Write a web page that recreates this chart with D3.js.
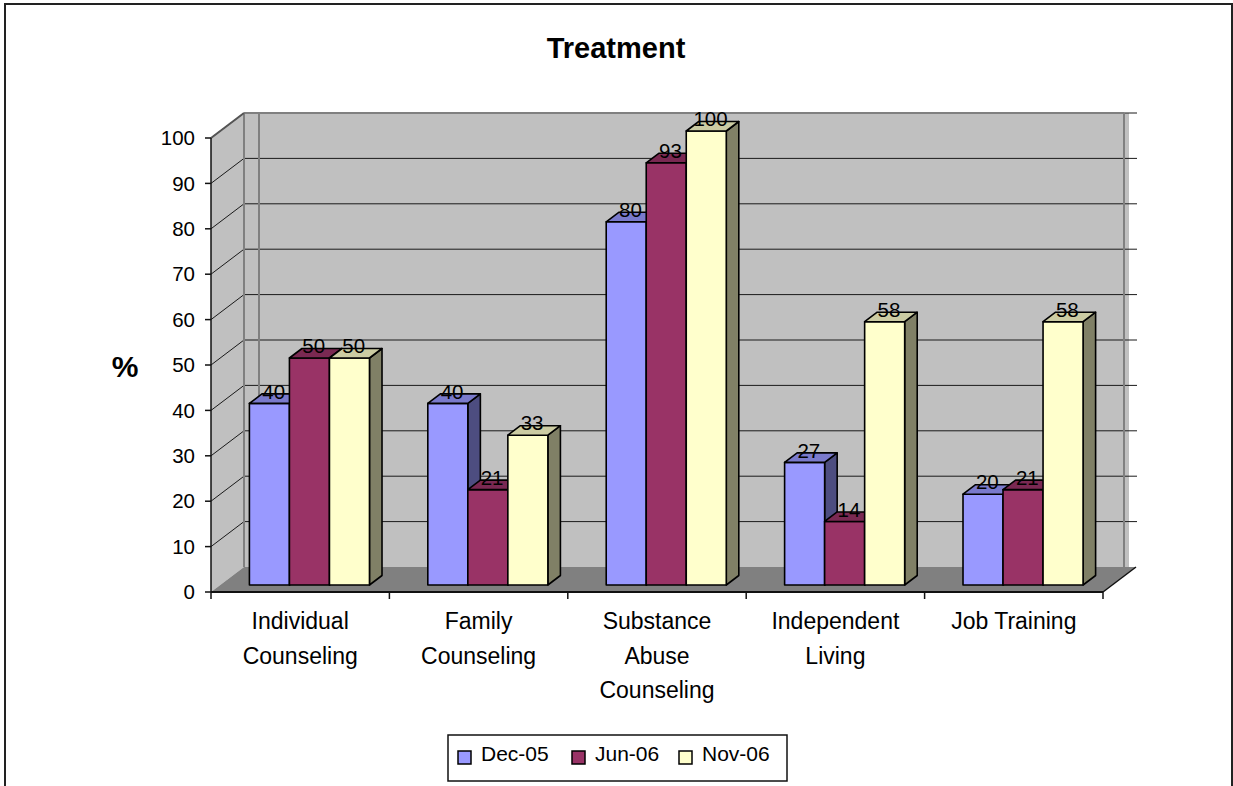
<!DOCTYPE html>
<html>
<head>
<meta charset="utf-8">
<script src="https://cdn.jsdelivr.net/npm/d3@7"></script>
<style>
  html, body { margin: 0; padding: 0; background: #fff; }
  svg { display: block; font-family: "Liberation Sans", Arial, sans-serif; }
</style>
</head>
<body>
<svg id="chart" width="1233" height="786"></svg>
<script>
// Treatment participation (%) by service type, three survey rounds
const categories = ["Individual Counseling", "Family Counseling", "Substance Abuse Counseling", "Independent Living", "Job Training"];
const seriesNames = ["Dec-05", "Jun-06", "Nov-06"];
const dec05 = [40, 40, 80, 27, 20];
const jun06 = [50, 21, 93, 14, 21];
const nov06 = [50, 33, 100, 58, 58];
const yTicks = [0, 10, 20, 30, 40, 50, 60, 70, 80, 90, 100];
const seriesColors = ["#9999ff", "#993366", "#ffffcc"];

const seriesValues = [dec05, jun06, nov06];

const svg = d3.select("#chart");

// Oblique 3-D projection: depth d in [0,1] shifts right and up
const DEPTH_X = 33, DEPTH_Y = -25;
const x = d3.scaleBand().domain(categories).range([211, 1103])
  .paddingInner(0.327).paddingOuter(0.1635);
const xCat = d3.scaleBand().domain(categories).range([211, 1103]);
const xSub = d3.scaleBand().domain(seriesNames).range([0, x.bandwidth()]);
const y = d3.scaleLinear().domain([0, 100]).range([592, 138]);
const P = (px, v, d) => [px + DEPTH_X * d, y(v) + DEPTH_Y * d];
const poly = pts => "M" + pts.map(p => p.join(",")).join("L") + "Z";

const BAR_D0 = 0.28, BAR_D1 = 0.66;
const x0 = 211, x1 = 1103;

// outer frame (open at the bottom)
svg.append("path")
  .attr("d", "M5,786 L5,4 L1232,4 L1232,786")
  .attr("fill", "none").attr("stroke", "#222").attr("stroke-width", 2);

// title
svg.append("text").attr("x", 616).attr("y", 58)
  .attr("text-anchor", "middle").attr("font-weight", "bold").attr("font-size", 29)
  .text("Treatment");

// axis title
svg.append("text").attr("x", 125).attr("y", 377)
  .attr("text-anchor", "middle").attr("font-weight", "bold").attr("font-size", 30)
  .text("%");

const walls = svg.append("g");
// back wall
walls.append("rect")
  .attr("x", P(x0, 100, 1)[0]).attr("y", P(x0, 100, 1)[1])
  .attr("width", 1129 - P(x0, 100, 1)[0]).attr("height", y(0) - y(100))
  .attr("fill", "#c0c0c0");
// side wall
walls.append("path")
  .attr("d", poly([P(x0, 0, 0), P(x0, 100, 0), P(x0, 100, 1), P(x0, 0, 1)]))
  .attr("fill", "#c0c0c0");
// floor
walls.append("path")
  .attr("d", poly([P(x0, 0, 0), P(x1, 0, 0), P(x1, 0, 1), P(x0, 0, 1)]))
  .attr("fill", "#808080");

// gridlines on side and back walls
const grid = svg.append("g").attr("stroke", "#1a1a1a").attr("stroke-width", 1).attr("fill", "none");
yTicks.filter(t => t > 0).forEach(t => {
  const a = P(x0, t, 0), b = P(x0, t, 1);
  grid.append("path").attr("d", `M${a[0]},${a[1]}L${b[0]},${b[1]}L${1137},${b[1]}`);
});

// wall edges
const edges = svg.append("g").attr("stroke", "#808080").attr("stroke-width", 2).attr("fill", "none");
const bl = P(x0, 100, 1), bb = P(x0, 0, 1);
edges.append("line").attr("x1", bl[0]).attr("y1", bl[1]).attr("x2", bb[0]).attr("y2", bb[1]);
edges.append("line").attr("x1", bl[0] + 15).attr("y1", bl[1]).attr("x2", bl[0] + 15).attr("y2", bb[1]);
edges.append("line").attr("x1", 1124).attr("y1", bl[1]).attr("x2", 1124).attr("y2", bb[1]);
edges.append("line").attr("x1", bl[0]).attr("y1", bl[1]).attr("x2", 1124).attr("y2", bl[1]);
const tl = P(x0, 100, 0);
edges.append("line").attr("x1", tl[0]).attr("y1", tl[1]).attr("x2", bl[0]).attr("y2", bl[1]).attr("stroke", "#555");

// value axis
const yAxis = svg.append("g");
yAxis.append("line").attr("x1", x0).attr("x2", x0).attr("y1", y(100)).attr("y2", y(0))
  .attr("stroke", "#111").attr("stroke-width", 1.5);
yTicks.forEach(t => {
  yAxis.append("line").attr("x1", x0 - 6).attr("x2", x0).attr("y1", y(t)).attr("y2", y(t))
    .attr("stroke", "#111").attr("stroke-width", 1.5);
  yAxis.append("text").attr("x", 195).attr("y", y(t)).attr("dy", "0.35em")
    .attr("text-anchor", "end").attr("font-size", 20.5).text(t);
});

// category axis: floor front and right edges plus ticks
const xAxis = svg.append("g").attr("stroke", "#111").attr("stroke-width", 2);
xAxis.append("line").attr("x1", x0).attr("x2", x1).attr("y1", y(0)).attr("y2", y(0));
const fr = P(x1, 0, 1);
xAxis.append("line").attr("x1", x1).attr("y1", y(0)).attr("x2", fr[0]).attr("y2", fr[1]).attr("stroke-width", 1.5);
const boundaries = categories.map(c => xCat(c)).concat([x1]);
boundaries.forEach(b => {
  xAxis.append("line").attr("x1", b).attr("x2", b).attr("y1", y(0)).attr("y2", y(0) + 7).attr("stroke-width", 1.5);
});

// category labels, word-wrapped
const catLabels = svg.append("g").attr("font-size", 23).attr("text-anchor", "middle");
categories.forEach(c => {
  const cx = xCat(c) + xCat.bandwidth() / 2;
  const t = catLabels.append("text").attr("x", cx).attr("y", 629);
  const words = c.split(" ");
  let line = [], lines = [];
  const probe = catLabels.append("text").attr("visibility", "hidden");
  words.forEach(w => {
    const tryLine = line.concat([w]).join(" ");
    probe.text(tryLine);
    if (line.length && probe.node().getComputedTextLength() > 140) {
      lines.push(line.join(" "));
      line = [w];
    } else {
      line.push(w);
    }
  });
  lines.push(line.join(" "));
  probe.remove();
  lines.forEach((l, i) => {
    t.append("tspan").attr("x", cx).attr("dy", i === 0 ? 0 : 34.5).text(l);
  });
});

// bars
const shade = (c, k) => { const r = d3.rgb(c); return d3.rgb(r.r * k, r.g * k, r.b * k).formatHex(); };
const bars = svg.append("g").attr("stroke", "#000").attr("stroke-width", 1.6).attr("stroke-linejoin", "round");
categories.forEach((c, i) => {
  seriesNames.forEach((s, j) => {
    const v = seriesValues[j][i];
    const bx0 = x(c) + xSub(s), bx1 = bx0 + xSub.bandwidth();
    const col = seriesColors[j];
    bars.append("path").attr("fill", shade(col, 0.5))
      .attr("d", poly([P(bx1, 0, BAR_D0), P(bx1, 0, BAR_D1), P(bx1, v, BAR_D1), P(bx1, v, BAR_D0)]));
    bars.append("path").attr("fill", col)
      .attr("d", poly([P(bx0, 0, BAR_D0), P(bx1, 0, BAR_D0), P(bx1, v, BAR_D0), P(bx0, v, BAR_D0)]));
    bars.append("path").attr("fill", shade(col, 0.8))
      .attr("d", poly([P(bx0, v, BAR_D0), P(bx1, v, BAR_D0), P(bx1, v, BAR_D1), P(bx0, v, BAR_D1)]));
  });
});

// value labels
const vLabels = svg.append("g").attr("font-size", 20.5).attr("text-anchor", "middle");
const DM = (BAR_D0 + BAR_D1) / 2;
categories.forEach((c, i) => {
  seriesNames.forEach((s, j) => {
    const v = seriesValues[j][i];
    const bx = x(c) + xSub(s) + xSub.bandwidth() / 2;
    const p = P(bx, v, DM);
    vLabels.append("text").attr("x", p[0] - 2).attr("y", p[1]).text(v);
  });
});

// legend
const legend = svg.append("g");
legend.append("rect").attr("x", 448).attr("y", 735).attr("width", 339).attr("height", 46)
  .attr("fill", "#fff").attr("stroke", "#111").attr("stroke-width", 1.5);
const legendX = [458, 572, 679];
seriesNames.forEach((s, j) => {
  legend.append("rect").attr("x", legendX[j]).attr("y", 751).attr("width", 13).attr("height", 13)
    .attr("fill", seriesColors[j]).attr("stroke", "#000").attr("stroke-width", 1.5);
  legend.append("text").attr("x", legendX[j] + 23).attr("y", 761).attr("font-size", 21).text(s);
});
</script>
</body>
</html>
